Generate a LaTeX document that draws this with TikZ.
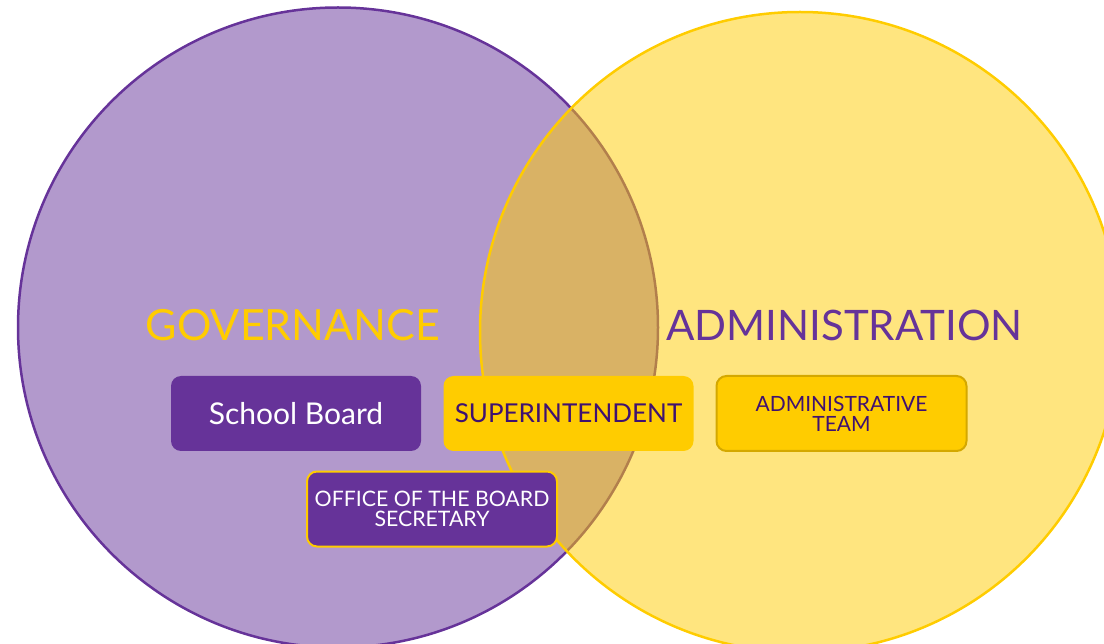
\documentclass[tikz,border=0pt]{standalone}
\usepackage{fontspec}
\setmainfont{Lato}
\definecolor{gpurple}{HTML}{663399}
\definecolor{gyellow}{HTML}{FFCC00}
\definecolor{dkyellow}{HTML}{D4A800}
\definecolor{txtpurple}{HTML}{3F1170}
\begin{document}
\begin{tikzpicture}[x=1pt,y=-1pt,
  venn/.style={circle,minimum size=640pt,inner sep=0pt,line width=2.5pt},
  title/.style={anchor=base,inner sep=0pt},
  box/.style={rounded corners=10pt,minimum width=250pt,minimum height=75pt,inner sep=0pt,align=center},
  pbox/.style={box,fill=gpurple,text=white},
  ybox/.style={box,fill=gyellow,text=txtpurple},
]
\useasboundingbox (0,0) rectangle (1104,644);
\node[venn,draw=gpurple,fill=gpurple,fill opacity=0.5] (gov) at (338,327.5) {};
\node[venn,draw=gyellow,fill=gyellow,fill opacity=0.5] (adm) at (800,332) {};
% titles
\node[title,text=gyellow,font=\fontsize{43}{43}\selectfont] (govt) at (293,341) {GOVERNANCE};
\node[title,text=gpurple,font=\fontsize{42}{42}\selectfont] (admt) at (844.5,341) {ADMINISTRATION};
% boxes
\node[pbox,font=\fontsize{30}{30}\selectfont] (sb) at (296,413.5) {School Board};
\node[ybox,font=\fontsize{26}{26}\selectfont] (sup) at (568.5,413.5) {SUPERINTENDENT};
\node[ybox,draw=dkyellow,line width=2pt,font=\fontsize{21}{20}\selectfont] (team) at (841.5,413.5) {ADMINISTRATIVE\\TEAM};
\node[pbox,draw=gyellow,line width=2pt,font=\fontsize{21.3}{20}\selectfont] (off) at (432,509) {OFFICE OF THE BOARD\\SECRETARY};
\end{tikzpicture}
\end{document}
